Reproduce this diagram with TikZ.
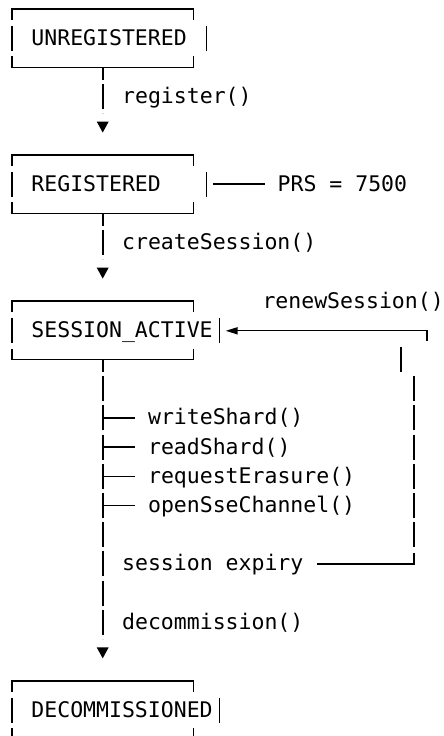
\documentclass[tikz,border=0pt]{standalone}
\usepackage{fontspec}
\newfontfamily\mono{DejaVu Sans Mono}

% character grid of the chart: 12.96pt columns, 29.21pt rows
\newcommand\colmid[1]{5.52+(#1+0.5)*12.96}
\newcommand\colleft[1]{5.52+(#1)*12.96}
\newcommand\rowmid[1]{9+(#1)*29.21}

\tikzset{
  ln/.style={line width=1.6pt, line cap=butt},
  spine/.style={ln, dash pattern=on 25pt off 4.21pt, dash phase=12.5pt, shorten >=12.5pt},
  lbl/.style={font={\mono\fontsize{21.5}{26}\selectfont}, anchor=base west,
              inner sep=0pt, outer sep=0pt, text=black},
}

% open state box: #1 name, #2 top row, #3 column of the right bar, #4 text
\newcommand\statebox[4]{%
  \coordinate (#1-nw) at ({\colmid{0}},{\rowmid{#2}});
  \coordinate (#1-ne) at ({\colmid{14}},{\rowmid{#2}});
  \coordinate (#1-sw) at ({\colmid{0}},{\rowmid{#2+2}});
  \coordinate (#1-se) at ({\colmid{14}},{\rowmid{#2+2}});
  \coordinate (#1-tee) at ({\colmid{7}},{\rowmid{#2+2}});
  \draw[ln] (#1-nw) ++(0,11) -- (#1-nw) -- (#1-ne) -- ++(0,11);
  \draw[ln] (#1-sw) ++(0,-11) -- (#1-sw) -- (#1-se) -- ++(0,-11);
  \draw[ln] ({\colmid{0}},{\rowmid{#2+1}-12.5}) -- ++(0,25);
  \draw[ln] ({\colmid{#3}},{\rowmid{#2+1}-12.5}) -- ++(0,25);
  \node[lbl] (#1) at ({\colleft{2}},{\rowmid{#2+1}+7}) {#4};
}

% downward arrow head on the main column: #1 name, #2 row
\newcommand\downtip[2]{%
  \coordinate (#1) at ({\colmid{7}},{\rowmid{#2}});
  \fill[black] (#1) ++(-6,-4.3) -- ++(12,0) -- ++(-6,11) -- cycle;
}

\begin{document}
\begin{tikzpicture}[x=1pt,y=-1pt]
\clip (0,0) rectangle (444,736);
\fill[white] (0,0) rectangle (444,736);

% states
\statebox{unreg}{0}{15}{UNREGISTERED}
\statebox{reg}{5}{15}{REGISTERED}
\statebox{active}{10}{16}{SESSION\_ACTIVE}
\statebox{decom}{23}{16}{DECOMMISSIONED}

% register()
\downtip{tip1}{4}
\draw[spine] (unreg-tee) -- (tip1);
\node[lbl] (lregister) at ({\colleft{9}},{\rowmid{3}+7}) {register()};

% PRS annotation
\draw[ln] ({\colleft{16}},{\rowmid{6}}) -- ({\colleft{20}},{\rowmid{6}});
\node[lbl] (prs) at ({\colleft{21}},{\rowmid{6}+7}) {PRS = 7500};

% createSession()
\downtip{tip2}{9}
\draw[spine] (reg-tee) -- (tip2);
\node[lbl] (lcreate) at ({\colleft{9}},{\rowmid{8}+7}) {createSession()};

% operations while the session is active, then decommission()
\downtip{tip3}{22}
\draw[spine] (active-tee) -- (tip3);
\foreach \r/\n/\t in {14/lwrite/writeShard(), 15/lread/readShard(),
                      16/lerase/requestErasure(), 17/lsse/openSseChannel()}{
  \draw[ln] ({\colmid{7}},{\rowmid{\r}}) -- ({\colleft{10}},{\rowmid{\r}});
  \node[lbl] (\n) at ({\colleft{11}},{\rowmid{\r}+7}) {\t};
}
\node[lbl] (lexpiry) at ({\colleft{9}},{\rowmid{19}+7}) {session expiry};
\node[lbl] (ldecom) at ({\colleft{9}},{\rowmid{21}+7}) {decommission()};

% renewal loop: session expiry back to SESSION_ACTIVE
\node[lbl] (lrenew) at ({\colleft{20}-2.2},{\rowmid{10}+7}) {renewSession()};
\coordinate (loop-top) at ({\colmid{32}},{\rowmid{11}});
\coordinate (loop-bot) at ({\colmid{31}},{\rowmid{19}});
\fill[black] ({\colleft{17}},{\rowmid{11}+0.5}) -- ++(11.7,-3.7) -- ++(0,7.4) -- cycle;
\draw[ln] ({\colleft{17}+11.5},{\rowmid{11}}) -- (loop-top) -- ++(0,11);
\draw[ln] ({\colmid{30}},{\rowmid{12}-12.5}) -- ++(0,25);
\draw[ln, dash pattern=on 25pt off 4.21pt]
  ({\colmid{31}},{\rowmid{13}-12.5}) -- ({\colmid{31}},{\rowmid{18}+12.5});
\draw[ln] ({\colleft{24}},{\rowmid{19}}) -- (loop-bot) -- ++(0,-11);
\end{tikzpicture}
\end{document}
